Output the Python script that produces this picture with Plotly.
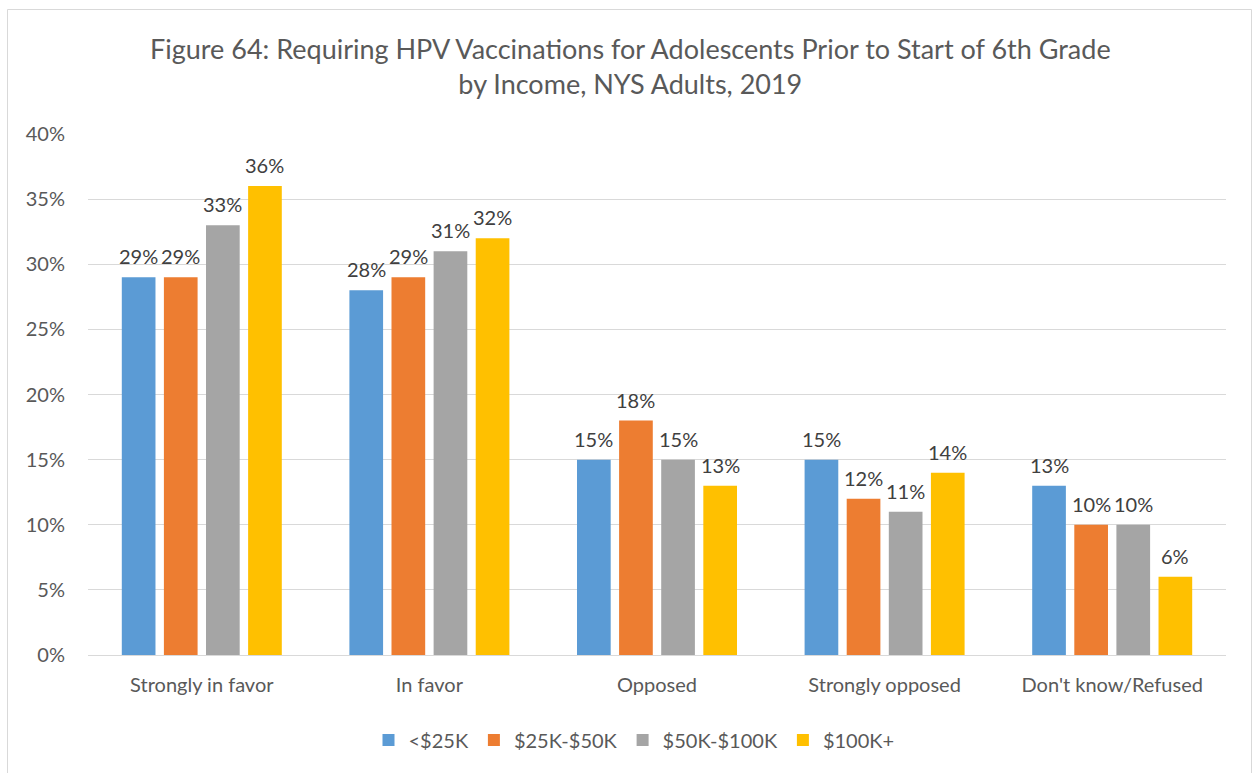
import plotly.graph_objects as go

categories = ["Strongly in favor", "In favor", "Opposed", "Strongly opposed", "Don't know/Refused"]
income_groups = ["<$25K", "$25K-$50K", "$50K-$100K", "$100K+"]
under_25k = [29, 28, 15, 15, 13]
k25_to_50k = [29, 29, 18, 12, 10]
k50_to_100k = [33, 31, 15, 11, 10]
over_100k = [36, 32, 13, 14, 6]
series_values = [under_25k, k25_to_50k, k50_to_100k, over_100k]
colors = ["#5B9BD5", "#ED7D31", "#A5A5A5", "#FFC000"]
y_ticks = [0, 5, 10, 15, 20, 25, 30, 35, 40]

FONT = "Lato, 'Open Sans', sans-serif"
TEXT = "#595959"

W, H = 1256, 773
ML, MR, MT, MB = 88, 30, 134, 118
pw, ph = W - ML - MR, H - MT - MB
BARGAP, GROUPGAP = 0.26, 0.2
n_groups = len(income_groups)
slot = pw / len(categories) * (1 - BARGAP) / n_groups


def px_x(x):
    return (x - ML) / pw


def px_y(y):
    return (H - MB - y) / ph


fig = go.Figure()
for name, vals, col in zip(income_groups, series_values, colors):
    fig.add_trace(go.Bar(
        x=categories, y=vals, name=name, marker_color=col,
        marker_line_width=0,
    ))

# value labels above each bar
for i, vals in enumerate(series_values):
    for cat, v in zip(categories, vals):
        fig.add_annotation(
            x=cat, y=v, xref="x", yref="y", text=f"{v}%", showarrow=False,
            xanchor="center", yanchor="bottom", xshift=(i - (n_groups - 1) / 2) * slot,
            yshift=7, font=dict(family=FONT, size=20, color="#404040"),
        )

fig.update_layout(
    width=W, height=H,
    margin=dict(l=ML, r=MR, t=MT, b=MB),
    paper_bgcolor="white", plot_bgcolor="white",
    barmode="group", bargap=BARGAP, bargroupgap=GROUPGAP,
    font=dict(family=FONT, color=TEXT, size=20),
    showlegend=True,
    legend=dict(orientation="h", x=px_x(634), xanchor="center", y=px_y(740), yanchor="middle",
                font=dict(size=20, color=TEXT), itemwidth=30, traceorder="normal"),
    xaxis=dict(showgrid=False, showline=True, linecolor="#D9D9D9", linewidth=1,
               ticks="", tickfont=dict(size=20, color=TEXT), ticklabelstandoff=12),
    yaxis=dict(range=[0, 40], tickvals=y_ticks, ticktext=[f"{t}%" for t in y_ticks],
               showgrid=True, gridcolor="#D9D9D9", gridwidth=1, zeroline=False,
               showline=False, ticks="", tickfont=dict(size=20, color=TEXT),
               ticklabelstandoff=22),
)

fig.add_annotation(
    text="Figure 64: Requiring HPV Vaccinations for Adolescents Prior to Start of 6th Grade<br>by Income, NYS Adults, 2019",
    xref="paper", yref="paper", x=px_x(630), y=px_y(66), xanchor="center", yanchor="middle",
    showarrow=False, font=dict(family=FONT, size=27, color=TEXT),
)

fig.add_shape(type="rect", xref="paper", yref="paper",
              x0=px_x(7.5), x1=px_x(1251.5), y0=px_y(790), y1=px_y(9.5),
              line=dict(color="#D9D9D9", width=1), fillcolor="rgba(0,0,0,0)", layer="below")

fig.write_html("out.html")
